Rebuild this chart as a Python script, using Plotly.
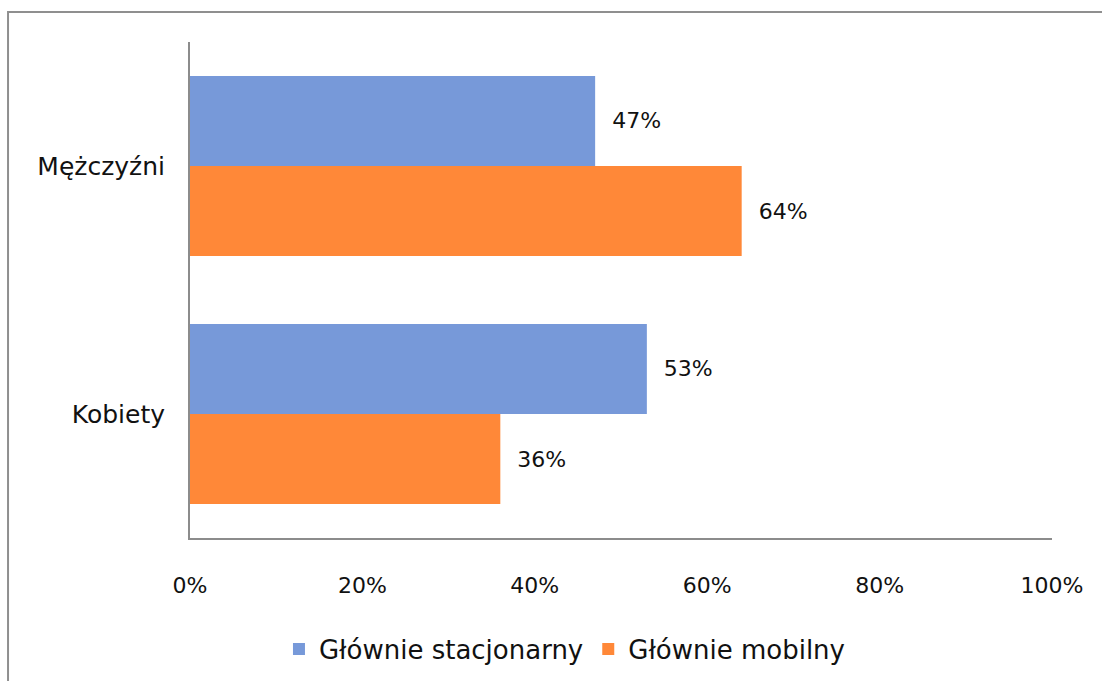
import plotly.graph_objects as go

# Share of respondents by gender and main device type
categories = ["Mężczyźni", "Kobiety"]
series_names = ["Głównie stacjonarny", "Głównie mobilny"]
stacjonarny = [0.47, 0.53]
mobilny = [0.64, 0.36]
x_ticks = [0, 0.2, 0.4, 0.6, 0.8, 1.0]
x_tick_labels = ["0%", "20%", "40%", "60%", "80%", "100%"]

colors = ["#7799D9", "#FF8838"]
font_family = "DejaVu Sans"
text_color = "#111111"
axis_gray = "#8C8C8C"

fig = go.Figure()
for name, vals, col in zip(series_names, [stacjonarny, mobilny], colors):
    fig.add_trace(go.Bar(
        name=name,
        y=categories,
        x=vals,
        orientation="h",
        marker=dict(color=col, line=dict(width=0)),
        text=[f"{round(v * 100)}%" for v in vals],
        texttemplate="  %{text}",
        textposition="outside",
        cliponaxis=False,
        textfont=dict(family=font_family, size=22, color=text_color),
    ))

fig.update_layout(
    width=1102,
    height=681,
    barmode="group",
    bargap=0.274,
    bargroupgap=0,
    paper_bgcolor="white",
    plot_bgcolor="white",
    margin=dict(l=190, r=50, t=42, b=143, autoexpand=False),
    font=dict(family=font_family, size=22, color=text_color),
    showlegend=True,
    legend=dict(
        orientation="h",
        x=0.435, xanchor="center",
        y=-0.224, yanchor="middle",
        font=dict(family=font_family, size=26, color=text_color),
        itemwidth=30,
    ),
    xaxis=dict(
        range=[0, 1],
        tickvals=x_ticks,
        ticktext=x_tick_labels,
        tickfont=dict(family=font_family, size=22, color=text_color),
        showgrid=False,
        zeroline=False,
        showline=True,
        linecolor=axis_gray,
        linewidth=2,
        ticks="",
        ticklabelstandoff=27,
    ),
    yaxis=dict(
        autorange="reversed",
        tickfont=dict(family=font_family, size=25, color=text_color),
        showgrid=False,
        zeroline=False,
        showline=True,
        linecolor=axis_gray,
        linewidth=2,
        ticks="",
        ticklabelstandoff=18,
    ),
    shapes=[
        # chart frame (top and left edges visible within the page)
        dict(type="rect", xref="paper", yref="paper",
             x0=-0.2111, x1=1.2, y0=-0.5, y1=1.0605,
             line=dict(color="#8F8F8F", width=2), fillcolor="rgba(0,0,0,0)",
             layer="below"),
    ],
)

fig.write_html("out.html")
